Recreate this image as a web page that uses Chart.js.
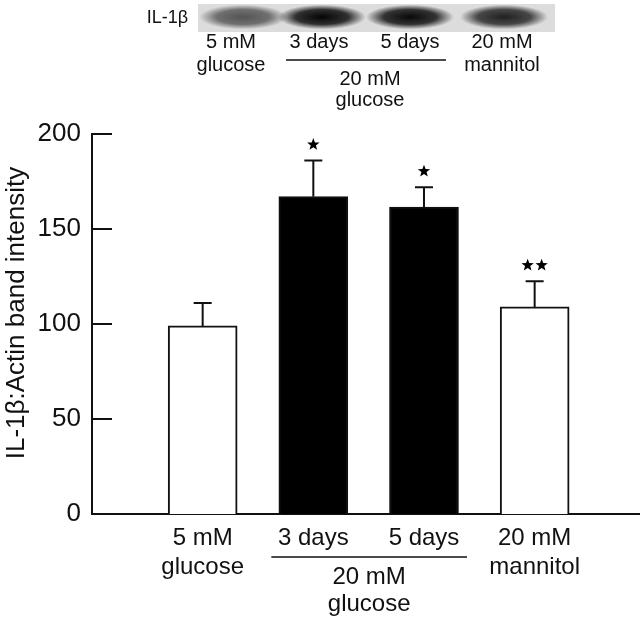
<!DOCTYPE html>
<html>
<head>
<meta charset="utf-8">
<script src="https://cdn.jsdelivr.net/npm/chart.js@4.4.1/dist/chart.umd.min.js"></script>
<style>
    html, body { margin: 0; padding: 0; background: #fff; }
    canvas { display: block; }
</style>
</head>
<body>
<canvas id="chart" width="640" height="621"></canvas>
<script>
// Chart values
const groups = [['5 mM', 'glucose'], '3 days', '5 days', ['20 mM', 'mannitol']];
const meanValues = [99, 167, 161.5, 109];
const errorTops = [111, 186, 172, 122.5];
const starCounts = [0, 1, 1, 2];
const barFills = ['#ffffff', '#000000', '#000000', '#ffffff'];
const yTicks = [0, 50, 100, 150, 200];
const groupLabel = ['20 mM', 'glucose'];

// Blot panel (top inset)
const blotLanes = [['5 mM', 'glucose'], ['3 days'], ['5 days'], ['20 mM', 'mannitol']];
const bandDarkness = [0.62, 0.98, 0.96, 0.85];

const ink = '#111';
const font = '"Liberation Sans", Arial, sans-serif';

function drawStar(ctx, cx, cy, r) {
    ctx.beginPath();
    for (let i = 0; i < 10; i++) {
        const rad = i % 2 === 0 ? r : r * 0.42;
        const a = -Math.PI / 2 + i * Math.PI / 5;
        const px = cx + rad * Math.cos(a), py = cy + rad * Math.sin(a);
        if (i === 0) ctx.moveTo(px, py); else ctx.lineTo(px, py);
    }
    ctx.closePath();
    ctx.fill();
}

const extras = {
    id: 'extras',
    afterDraw(chart) {
        const ctx = chart.ctx;
        const x = chart.scales.x, y = chart.scales.y;
        const area = chart.chartArea;
        ctx.save();

        // inward tick marks on the y axis
        ctx.strokeStyle = ink;
        ctx.lineWidth = 2;
        yTicks.forEach(v => {
            const py = Math.round(y.getPixelForValue(v));
            ctx.beginPath();
            ctx.moveTo(area.left, py);
            ctx.lineTo(area.left + 20, py);
            ctx.stroke();
        });

        // error bars + significance stars
        const meta = chart.getDatasetMeta(0);
        meta.data.forEach((bar, i) => {
            const top = y.getPixelForValue(errorTops[i]);
            ctx.beginPath();
            ctx.moveTo(bar.x, bar.y);
            ctx.lineTo(bar.x, top);
            ctx.moveTo(bar.x - 9, top);
            ctx.lineTo(bar.x + 9, top);
            ctx.stroke();
            ctx.fillStyle = '#000';
            const n = starCounts[i];
            for (let k = 0; k < n; k++) {
                drawStar(ctx, bar.x + (k - (n - 1) / 2) * 14, top - 16, 6.5);
            }
        });

        // y axis title
        ctx.fillStyle = ink;
        ctx.font = '26px ' + font;
        ctx.textAlign = 'center';
        ctx.textBaseline = 'middle';
        ctx.save();
        ctx.translate(17, 313);
        ctx.rotate(-Math.PI / 2);
        ctx.fillText('IL-1β:Actin band intensity', 0, 0);
        ctx.restore();

        // group label under 3 days / 5 days
        const gx1 = x.getPixelForValue(2) - 42, gx2 = x.getPixelForValue(3) + 43;
        ctx.lineWidth = 1.5;
        ctx.beginPath();
        ctx.moveTo(gx1, 557);
        ctx.lineTo(gx2, 557);
        ctx.stroke();
        ctx.font = '24px ' + font;
        ctx.fillText(groupLabel[0], (gx1 + gx2) / 2, 577);
        ctx.fillText(groupLabel[1], (gx1 + gx2) / 2, 604);

        // blot strip
        ctx.fillStyle = '#dcdcdc';
        ctx.fillRect(198, 4, 357, 28);
        const laneX = [243, 322, 410, 504];
        laneX.forEach((cx, i) => {
            ctx.save();
            ctx.translate(cx, 17);
            ctx.scale(1, 0.28);
            const g = ctx.createRadialGradient(0, 0, 0, 0, 0, 44);
            g.addColorStop(0, 'rgba(0,0,0,' + bandDarkness[i] + ')');
            g.addColorStop(0.6, 'rgba(0,0,0,' + (bandDarkness[i] * 0.8) + ')');
            g.addColorStop(1, 'rgba(0,0,0,0)');
            ctx.fillStyle = g;
            ctx.beginPath();
            ctx.arc(0, 0, 44, 0, Math.PI * 2);
            ctx.fill();
            ctx.restore();
        });

        ctx.fillStyle = ink;
        ctx.font = '18px ' + font;
        ctx.textAlign = 'right';
        ctx.fillText('IL-1β', 188, 18);

        ctx.textAlign = 'center';
        ctx.font = '20px ' + font;
        const labelX = [231, 319, 410, 502];
        blotLanes.forEach((lines, i) => {
            lines.forEach((t, k) => ctx.fillText(t, labelX[i], 42 + k * 23));
        });
        ctx.lineWidth = 1.5;
        ctx.beginPath();
        ctx.moveTo(286, 60);
        ctx.lineTo(446, 60);
        ctx.stroke();
        ctx.fillText(groupLabel[0], 370, 79);
        ctx.fillText(groupLabel[1], 370, 100);

        ctx.restore();
    }
};

new Chart(document.getElementById('chart'), {
    type: 'bar',
    data: {
        datasets: [{
            data: meanValues.map((v, i) => ({ x: i + 1, y: v })),
            backgroundColor: barFills,
            borderColor: ink,
            borderWidth: 2,
            barThickness: 69
        }]
    },
    options: {
        responsive: false,
        animation: false,
        layout: { padding: { top: 134, left: 0, right: 0, bottom: 0 } },
        plugins: { legend: { display: false }, tooltip: { enabled: false } },
        scales: {
            x: {
                type: 'linear',
                min: 0,
                max: 4.952,
                offset: false,
                afterBuildTicks: s => { s.ticks = groups.map((g, i) => ({ value: i + 1 })); },
                afterFit: s => { s.height = 107; },
                grid: { display: false, drawTicks: false },
                border: { display: true, color: ink, width: 2 },
                ticks: {
                    padding: 10,
                    maxRotation: 0,
                    autoSkip: false,
                    color: ink,
                    font: { family: font, size: 24, lineHeight: 1.2 },
                    callback: (v, i) => groups[i]
                }
            },
            y: {
                min: 0,
                max: 200,
                afterBuildTicks: s => { s.ticks = yTicks.map(v => ({ value: v })); },
                afterFit: s => { s.width = 92; },
                grid: { display: false, drawTicks: false },
                border: { display: true, color: ink, width: 2 },
                ticks: {
                    padding: 11,
                    color: ink,
                    font: { family: font, size: 26 }
                }
            }
        }
    },
    plugins: [extras]
});
</script>
</body>
</html>
